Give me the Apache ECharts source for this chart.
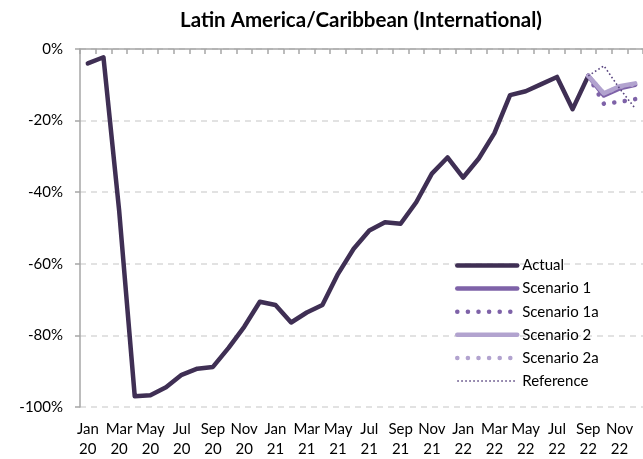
<!DOCTYPE html>
<html>
<head>
<meta charset="utf-8">
<script src="https://cdn.jsdelivr.net/npm/echarts@6/dist/echarts.min.js"></script>
<style>
  html, body { margin: 0; padding: 0; background: #fff; }
  #chart { width: 643px; height: 459px; }
</style>
</head>
<body>
<div id="chart"></div>
<script>
// Monthly categories, Jan 2020 – Dec 2022
const months = [
  'Jan 20','Feb 20','Mar 20','Apr 20','May 20','Jun 20','Jul 20','Aug 20','Sep 20','Oct 20','Nov 20','Dec 20',
  'Jan 21','Feb 21','Mar 21','Apr 21','May 21','Jun 21','Jul 21','Aug 21','Sep 21','Oct 21','Nov 21','Dec 21',
  'Jan 22','Feb 22','Mar 22','Apr 22','May 22','Jun 22','Jul 22','Aug 22','Sep 22','Oct 22','Nov 22','Dec 22'
];

// Percent change vs. baseline
const actual = [
  -4.0, -2.3, -45.0, -97.0, -96.7, -94.5, -91.0, -89.3, -88.8, -83.5, -77.6, -70.6,
  -71.5, -76.4, -73.6, -71.5, -62.8, -55.8, -50.7, -48.4, -48.8, -42.8, -34.8, -30.3,
  -35.9, -30.6, -23.5, -12.9, -11.8, -9.8, -7.8, -16.8, -7.5, null, null, null
];
const pad = new Array(32).fill(null);
const scenario1  = pad.concat([-7.5, -13.0, -11.0, -10.0]);
const scenario1a = pad.concat([-7.5, -15.3, -14.8, -14.0]);
const scenario2  = pad.concat([-7.5, -12.4, -10.4, -9.6]);
const scenario2a = pad.concat([-7.5, -12.4, -10.6, -9.8]);
const reference  = pad.concat([-7.5, -4.7, -11.0, -16.6]);

const yTicks = { min: -100, max: 0, step: 20 };

const FONT = 'Lato';
const C_ACTUAL = '#3f2f54';
const C_S1 = '#7e62a8';
const C_S2 = '#b2a3cf';
const C_REF = '#5a4680';

const chart = echarts.init(document.getElementById('chart'), null, { renderer: 'canvas' });

function lineSeries(name, data, color, width, type, cap) {
  return {
    name, type: 'line', data,
    symbol: 'none', showSymbol: false,
    connectNulls: false,
    lineStyle: { color, width, type, cap: cap || 'round', join: 'round' },
    itemStyle: { color },
    emphasis: { disabled: true },
    animation: false
  };
}

chart.setOption({
  animation: false,
  textStyle: { fontFamily: FONT },
  title: {
    text: 'Latin America/Caribbean (International)',
    left: 356, top: 5, textAlign: 'center',
    textStyle: { fontFamily: FONT, fontSize: 20.5, fontWeight: 'bold', color: '#000' }
  },
  grid: { left: 80, top: 49, right: 0, bottom: 52, containLabel: false },
  legend: {
    orient: 'vertical',
    left: 450, top: 253,
    itemWidth: 60, itemHeight: 14, itemGap: 8.1,
    textStyle: { fontFamily: FONT, fontSize: 15, color: '#000' },
    itemStyle: { color: 'rgba(0,0,0,0)', borderWidth: 0, opacity: 0 },
    lineStyle: { width: 'inherit', type: 'inherit', cap: 'inherit' },
    data: ['Actual', 'Scenario 1', 'Scenario 1a', 'Scenario 2', 'Scenario 2a', 'Reference']
  },
  xAxis: [
    {
      type: 'category', data: months, position: 'bottom', boundaryGap: true,
      axisLine: { show: false }, axisTick: { show: false },
      axisLabel: {
        interval: 1, margin: 12, fontFamily: FONT, fontSize: 15, color: '#000', lineHeight: 20,
        formatter: v => v.replace(' ', '\n')
      }
    },
    {
      type: 'category', data: months, position: 'top', boundaryGap: true,
      axisLine: { show: true, onZero: false, lineStyle: { color: '#a6a6a6', width: 1.5 } },
      axisTick: { show: true, inside: true, length: 5, interval: 0, lineStyle: { color: '#a6a6a6', width: 1.5 } },
      axisLabel: { show: false }
    }
  ],
  yAxis: {
    type: 'value', min: yTicks.min, max: yTicks.max, interval: yTicks.step,
    axisLine: { show: true, lineStyle: { color: '#a6a6a6', width: 1.5 } },
    axisTick: { show: true, length: 5, lineStyle: { color: '#a6a6a6', width: 1.5 } },
    splitLine: { show: true, lineStyle: { color: '#d9d9d9', width: 1.5, type: [6, 5] } },
    axisLabel: { margin: 17, fontFamily: FONT, fontSize: 15, color: '#000', formatter: v => v + '%' }
  },
  series: [
    lineSeries('Actual', actual, C_ACTUAL, 4.5, 'solid'),
    lineSeries('Scenario 1', scenario1, C_S1, 4.5, 'solid'),
    lineSeries('Scenario 1a', scenario1a, C_S1, 4.5, [0.1, 10.5]),
    lineSeries('Scenario 2', scenario2, C_S2, 4.5, 'solid'),
    lineSeries('Scenario 2a', scenario2a, C_S2, 4.5, [0.1, 10.5]),
    lineSeries('Reference', reference, C_REF, 1.6, [1.6, 2.4], 'butt')
  ]
});
</script>
</body>
</html>
